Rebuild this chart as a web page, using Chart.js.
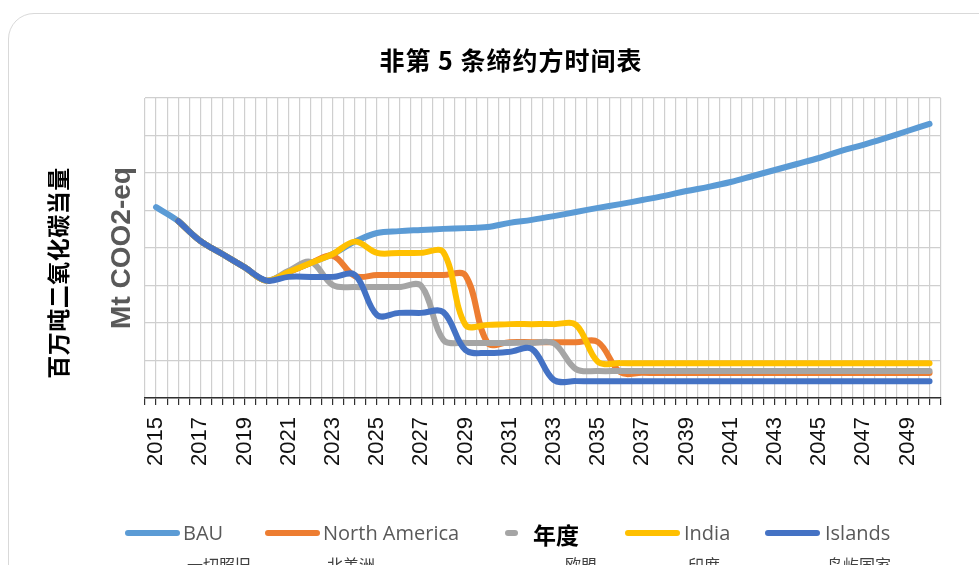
<!DOCTYPE html>
<html>
<head>
<meta charset="utf-8">
<script src="https://cdn.jsdelivr.net/npm/chart.js@4.4.1/dist/chart.umd.min.js"></script>
<style>
  html, body { margin: 0; padding: 0; background: #fff; }
  body { width: 979px; height: 565px; overflow: hidden; position: relative; }
  #frame {
    position: absolute; left: 8px; top: 13px; width: 1010px; height: 620px;
    border: 1.5px solid #d9d9d9; border-radius: 26px;
  }
  #chart { position: absolute; left: 0; top: 0; }
  #title {
    position: absolute; left: 211px; top: 41px; width: 600px; line-height: 30px;
    text-align: center; font: bold 25px "Noto Sans CJK SC", sans-serif; letter-spacing: 1px; color: #000;
  }
  #ytitle {
    position: absolute; left: -93px; top: 256px; width: 300px; line-height: 30px;
    text-align: center; font: bold 23px "Noto Sans CJK SC", sans-serif; letter-spacing: 0.5px; color: #000;
    transform: rotate(-90deg);
  }
  #xtitle {
    position: absolute; left: 533px; top: 517px; line-height: 28px;
    font: bold 23px "Noto Sans CJK SC", sans-serif; color: #000;
  }
  .lg-line { position: absolute; top: 530px; height: 6px; border-radius: 3px; }
  .lg-text {
    position: absolute; top: 519px; line-height: 28px; white-space: nowrap;
    font: 20px "Open Sans", sans-serif; color: #595959;
  }
  .lg-sub {
    position: absolute; top: 552px; line-height: 20px; white-space: nowrap;
    font: 16px "Noto Sans CJK SC", sans-serif; color: #404040;
  }
</style>
</head>
<body>
<div id="frame"></div>
<canvas id="chart" width="979" height="565"></canvas>
<div id="title">非第 5 条缔约方时间表</div>
<div id="ytitle">百万吨二氧化碳当量</div>
<div id="legend"></div>
<div id="xtitle">年度</div>
<script>
const years = [2015, 2016, 2017, 2018, 2019, 2020, 2021, 2022, 2023, 2024, 2025, 2026,
  2027, 2028, 2029, 2030, 2031, 2032, 2033, 2034, 2035, 2036, 2037, 2038,
  2039, 2040, 2041, 2042, 2043, 2044, 2045, 2046, 2047, 2048, 2049, 2050];
const tickYears = [2015, 2017, 2019, 2021, 2023, 2025, 2027, 2029, 2031, 2033,
  2035, 2037, 2039, 2041, 2043, 2045, 2047, 2049];

// Mt CO2-eq (no scale printed on the chart, values read relative to the grid)
const bau = [509, 472, 419, 384, 349, 313, 336, 360, 384, 417, 440, 445,
  448, 451, 453, 456, 467, 475, 485, 496, 507, 517, 528, 539,
  552, 563, 576, 592, 608, 624, 640, 659, 675, 693, 712, 731];
const northAmerica = [null, 472, 419, 384, 349, 313, 336, 360, 379, 325, 328, 328,
  328, 328, 327, 147, 149, 149, 149, 149, 149, 69, 67, 67,
  67, 67, 67, 67, 67, 67, 67, 67, 67, 67, 67, 67];
const eu = [null, 472, 419, 384, 349, 313, 339, 363, 301, 296, 296, 296,
  299, 155, 147, 147, 147, 147, 146, 77, 72, 72, 72, 72,
  72, 72, 72, 72, 72, 72, 72, 72, 72, 72, 72, 72];
const india = [null, 472, 419, 384, 349, 313, 336, 360, 384, 417, 387, 387,
  387, 389, 195, 195, 197, 197, 197, 195, 96, 93, 93, 93,
  93, 93, 93, 93, 93, 93, 93, 93, 93, 93, 93, 93];
const islands = [null, 472, 419, 384, 349, 313, 323, 323, 323, 328, 221, 227,
  227, 229, 128, 120, 123, 131, 48, 45, 45, 45, 45, 45,
  45, 45, 45, 45, 45, 45, 45, 45, 45, 45, 45, 45];

const seriesNames = ['BAU', 'North America', 'EU', 'India', 'Islands'];
const legendLabels = ['BAU', 'North America', '', 'India', 'Islands'];
const legendSubLabels = ['一切照旧', '北美洲', '欧盟', '印度', '岛屿国家'];

const colors = ['#5b9bd5', '#ed7d31', '#a5a5a5', '#ffc000', '#4472c4'];
const seriesValues = [bau, northAmerica, eu, india, islands];

function toPoints(values) {
  return years.map((yr, i) => ({ x: yr, y: values[i] }));
}

// legend is laid out by hand (the gray entry sits under the axis title "年度")
const legendLayout = [
  { lineX: 125, lineW: 55, textX: 183, subX: 187 },
  { lineX: 265, lineW: 55, textX: 323, subX: 327 },
  { lineX: 505, lineW: 13, textX: 0, subX: 565 },
  { lineX: 625, lineW: 55, textX: 684, subX: 688 },
  { lineX: 765, lineW: 55, textX: 825, subX: 827 }
];
const legendEl = document.getElementById('legend');
legendLayout.forEach(function (pos, i) {
  const line = document.createElement('div');
  line.className = 'lg-line';
  line.style.left = pos.lineX + 'px';
  line.style.width = pos.lineW + 'px';
  line.style.background = colors[i];
  legendEl.appendChild(line);
  if (legendLabels[i]) {
    const txt = document.createElement('div');
    txt.className = 'lg-text';
    txt.style.left = pos.textX + 'px';
    txt.textContent = legendLabels[i];
    legendEl.appendChild(txt);
  }
  const sub = document.createElement('div');
  sub.className = 'lg-sub';
  sub.style.left = pos.subX + 'px';
  sub.textContent = legendSubLabels[i];
  legendEl.appendChild(sub);
});

const ctx = document.getElementById('chart').getContext('2d');
new Chart(ctx, {
  type: 'line',
  data: {
    datasets: seriesNames.map(function (name, i) {
      return {
        label: name,
        data: toPoints(seriesValues[i]),
        borderColor: colors[i],
        backgroundColor: colors[i],
        borderWidth: 6,
        borderCapStyle: 'round',
        borderJoinStyle: 'round',
        pointRadius: 0,
        tension: 0.36,
        fill: false,
        order: seriesNames.length - i   // later series drawn on top, like Excel
      };
    })
  },
  options: {
    responsive: false,
    animation: false,
    layout: { padding: { top: 98, right: 31, bottom: 0, left: 0 } },
    plugins: {
      legend: { display: false },
      tooltip: { enabled: false }
    },
    scales: {
      x: {
        type: 'linear',
        min: 2014.5,
        max: 2050.5,
        afterFit: function (scale) { scale.height = 167; },
        grid: { color: '#cfcfcf', lineWidth: 1.2, tickLength: 7, tickColor: '#303030', tickWidth: 1.2 },
        border: { color: '#303030', width: 1.5 },
        ticks: {
          stepSize: 0.5,
          autoSkip: false,
          minRotation: 90,
          maxRotation: 90,
          padding: 12,
          color: '#111',
          font: { family: 'Liberation Sans', size: 22 },
          callback: function (v) { return tickYears.includes(v) ? String(v) : ''; }
        }
      },
      y: {
        min: 0,
        max: 800,
        afterFit: function (scale) { scale.width = 145; },
        grid: { color: '#cfcfcf', lineWidth: 1.2, drawTicks: false },
        border: { display: false },
        ticks: { display: false, stepSize: 100 },
        title: {
          display: true,
          text: 'Mt COO2-eq',
          color: '#595959',
          font: { family: 'Liberation Sans', size: 28, weight: 'bold' },
          padding: { top: 105, bottom: 0 }
        }
      }
    }
  }
});
</script>
</body>
</html>
